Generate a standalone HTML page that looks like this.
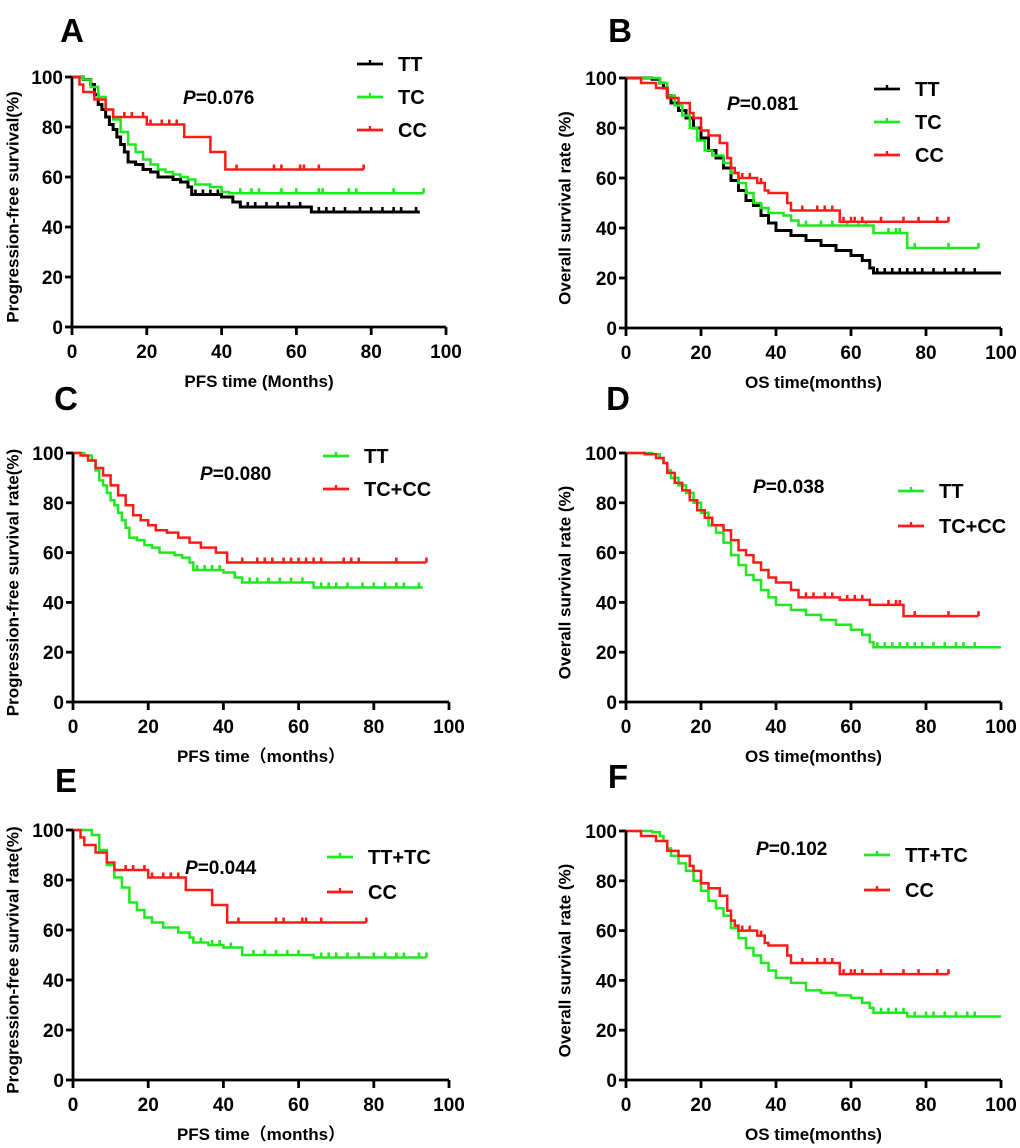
<!DOCTYPE html>
<html><head><meta charset="utf-8"><style>
html,body{margin:0;padding:0;background:#fff}
svg{display:block;font-family:"Liberation Sans","Noto Sans CJK SC",sans-serif;font-weight:bold}
</style></head><body>
<svg id="fig" width="1020" height="1148" viewBox="0 0 1020 1148" xmlns="http://www.w3.org/2000/svg"></svg>
<script>
// ---- data ----
const xTicks=[0,20,40,60,80,100];
const yTicks=[0,20,40,60,80,100];
const pValues=["0.076","0.081","0.080","0.038","0.044","0.102"];
const aTT=[[0,100],[3,99],[5,97],[6,93],[7,89],[8,87],[9,84],[10,81],[11,79],[12,76],[13,73],[14,70],[15,66],[17,65],[19,63],[21,62],[23,60],[27,59],[29,58],[31,56],[32,53],[40,52],[43,50],[45,48],[64,46],[93,46]];
const aTTc=[33,35,37,39,47,49,52,55,58,61,66,68,70,73,77,80,83,86,88,92];
const aTC=[[0,100],[3,99],[5,96],[7,92],[9,87],[11,83],[13,78],[15,73],[17,70],[19,67],[21,65],[23,63],[25,62],[27,61],[29,60],[31,59],[33,57],[37,56],[40,54],[42,53.5],[94,53.5]];
const aTCc=[45,48,50,56,60,66,67,74,76,86,94];
const aCC=[[0,100],[2,97],[3,94],[6,91],[9,87],[11,84],[20,81],[30,76],[37,70],[41,63],[78,63]];
const aCCc=[14,16,19,21,24,26,28,44,54,56,61,62,66,78];
const bTT=[[0,100],[7,99.5],[9,98],[10,96],[11,93],[12,90],[14,87],[16,84],[18,80],[20,76],[22,71],[24,68],[26,64],[28,59],[30,55],[32,51],[34,49],[36,45],[38,42],[40,39],[44,37],[48,35],[52,33],[56,31],[60,29],[63,27],[65,24],[66,22],[100,22]];
const bTTc=[67,69,71,73,75,77,79,82,85,88,90,93];
const bTC=[[0,100],[9,98],[11,93],[13,89],[15,85],[17,80],[19,75],[21,71],[23,69],[26,66],[28,62],[30,58],[32,54],[34,50],[36,48],[38,46],[42,45],[44,43],[46,41],[66,38],[75,32],[94,32]];
const bTCc=[48,52,55,59,62,64,70,72,73,77,86,94];
const bCC=[[0,100],[4,98],[8,96],[11,92],[14,90],[17,86],[18,84],[20,79],[22,77],[25,74],[27,68],[28,64],[29,62],[30,60],[35,58],[37,55],[38,54],[43,50],[44,47],[57,42.5],[86,42.5]];
const bCCc=[31,33,36,47,51,53,55,58,60,61,63,68,74,78,83,86];
const cTCCC=[[0,100],[2,99],[4,97],[6,94],[8,91],[10,87],[12,83],[14,79],[16,75],[18,73],[20,71],[22,69],[25,68],[28,66],[31,64],[34,62],[38,60],[41,56],[94,56]];
const cTCCCc=[45,49,51,53,56,58,60,62,64,66,72,74,76,86,94];
const dTCCC=[[0,100],[5,99.5],[8,98],[10,96],[11,92],[13,88],[15,85],[17,81],[19,77],[21,74],[23,71],[26,69],[28,65],[30,61],[32,59],[34,56],[36,53],[38,50],[40,48],[44,45],[46,42],[57,41],[65,39],[74,34.5],[94,34.5]];
const dTCCCc=[48,50,53,55,59,61,63,70,72,73,77,86,94];
const eTTTC=[[0,100],[5,98],[7,92],[9,86],[11,81],[13,77],[15,71],[17,68],[19,65],[21,63],[24,61],[28,59],[31,57],[32,55],[36,54],[40,53],[45,50],[64,49],[94,49]];
const eTTTCc=[34,37,39,42,48,51,54,57,60,66,68,70,73,76,80,83,86,88,92,94];
const fTTTC=[[0,100],[7,99.5],[9,98],[10,96],[11,93],[12,90],[14,87],[16,84],[18,80],[20,76],[22,72],[24,69],[26,66],[28,61],[30,57],[32,53],[34,50],[36,47],[38,44],[40,41],[44,39],[48,36],[52,35],[56,34],[60,33],[63,31],[65,29],[66,27],[75,25.5],[100,25.5]];
const fTTTCc=[68,70,72,74,77,80,82,85,88,91,93];

const BK="#000",GR="#1ee81e",RD="#ff1a1a";
const panels=[
 {id:"A",g:[72,446,77,327],lx:[72,30],yt:"Progression-free survival(%)",xt:"PFS time (Months)",ytx:14,p:[183,104],
  leg:{x:357,y:[64,97,130]},series:[["TT",aTT,aTTc,BK],["TC",aTC,aTCc,GR],["CC",aCC,aCCc,RD]]},
 {id:"B",g:[626,1001,78,328],lx:[620,30],yt:"Overall survival rate (%)",xt:"OS time(months)",ytx:566,p:[727,110],
  leg:{x:874,y:[89,122,155]},series:[["TT",bTT,bTTc,BK],["TC",bTC,bTCc,GR],["CC",bCC,bCCc,RD]]},
 {id:"C",g:[73,449,453,702],lx:[66,398],yt:"Progression-free survival rate(%)",xt:"PFS time\uff08months\uff09",ytx:14,p:[200,480],
  leg:{x:323,y:[456,489]},series:[["TT",aTT,aTTc,GR],["TC+CC",cTCCC,cTCCCc,RD]]},
 {id:"D",g:[626,1001,453,702],lx:[618,398],yt:"Overall survival rate (%)",xt:"OS time(months)",ytx:566,p:[753,493],
  leg:{x:898,y:[491,526]},series:[["TT",bTT,bTTc,GR],["TC+CC",dTCCC,dTCCCc,RD]]},
 {id:"E",g:[73,449,830,1080],lx:[66,780],yt:"Progression-free survival rate(%)",xt:"PFS time\uff08months\uff09",ytx:14,p:[185,874],
  leg:{x:327,y:[857,892]},series:[["TT+TC",eTTTC,eTTTCc,GR],["CC",aCC,aCCc,RD]]},
 {id:"F",g:[626,1001,831,1080],lx:[618,776],yt:"Overall survival rate (%)",xt:"OS time(months)",ytx:566,p:[756,855],
  leg:{x:864,y:[855,890]},series:[["TT+TC",fTTTC,fTTTCc,GR],["CC",bCC,bCCc,RD]]}
];
const svg=document.getElementById('fig');
const NS="http://www.w3.org/2000/svg";
function mk(tag,attrs,parent){const e=document.createElementNS(NS,tag);for(const k in attrs)e.setAttribute(k,attrs[k]);parent.appendChild(e);return e;}
function survAt(curve,t){let s=curve[0][1];for(const [ti,si] of curve){if(ti<=t)s=si;else break;}return s;}
panels.forEach(P=>{
 const [x0,x1,yT,yB]=P.g;
 const X=v=>x0+(x1-x0)*v/100, Y=v=>yB-(yB-yT)*v/100;
 const g=mk('g',{},svg);
 
 
 const L=mk('text',{x:P.lx[0],y:P.lx[1]+12,'font-size':33,'text-anchor':'middle'},g);L.textContent=P.id;
 
 P.series.forEach(([name,cv,cens,col])=>{
  let d="M"+X(cv[0][0])+","+Y(cv[0][1]);
  for(let i=1;i<cv.length;i++){d+=" H"+X(cv[i][0])+" V"+Y(cv[i][1]);}
  const pth=mk('path',{d:d,fill:'none',stroke:col,'stroke-width':col===BK?3:2.5},g);
  
  
  cens.forEach(t=>{const s=survAt(cv,t);
   const c=mk('line',{x1:X(t),x2:X(t),y1:Y(s)-5,y2:Y(s),stroke:col,'stroke-width':2.6},g);
   });
 });
 const ax=mk('path',{d:`M${x0},${yT} V${yB} H${x1}`,fill:'none',stroke:'#000','stroke-width':2.8},g);
 
 yTicks.forEach(v=>{mk('line',{x1:x0-7,x2:x0,y1:Y(v),y2:Y(v),stroke:'#000','stroke-width':2.8},g);
  const t=mk('text',{x:x0-9,y:Y(v)+7,'font-size':19,'text-anchor':'end'},g);t.textContent=v;
  });
 xTicks.forEach(v=>{mk('line',{x1:X(v),x2:X(v),y1:yB,y2:yB+8,stroke:'#000','stroke-width':2.8},g);
  const t=mk('text',{x:X(v),y:yB+31,'font-size':19,'text-anchor':'middle'},g);t.textContent=v;
  });
 const xt=mk('text',{x:(x0+x1)/2,y:yB+60,'font-size':17,'text-anchor':'middle'},g);xt.textContent=P.xt;
 
 const cy=(yT+yB)/2+5;
 const yt=mk('text',{x:P.ytx,y:cy,'font-size':17,'text-anchor':'middle',transform:`rotate(-90 ${P.ytx} ${cy})`,'dominant-baseline':'middle'},g);yt.textContent=P.yt;
 
 const pt=mk('text',{x:P.p[0],y:P.p[1],'font-size':19},g);
 
 const pi=mk('tspan',{'font-style':'italic'},pt);pi.textContent='P';
 const pv=mk('tspan',{},pt);pv.textContent='='+pValues["ABCDEF".indexOf(P.id)];
 P.series.forEach(([name,cv,cens,col],i)=>{const y=P.leg.y[i];
  const lg=mk('g',{},g);
  mk('line',{x1:P.leg.x,x2:P.leg.x+26,y1:y,y2:y,stroke:col,'stroke-width':2.8},lg);
  mk('line',{x1:P.leg.x+13,x2:P.leg.x+13,y1:y-4,y2:y,stroke:col,'stroke-width':2.4},lg);
  const t=mk('text',{x:P.leg.x+41,y:y+7,'font-size':20},lg);t.textContent=name;});
});
</script>
</body></html>
